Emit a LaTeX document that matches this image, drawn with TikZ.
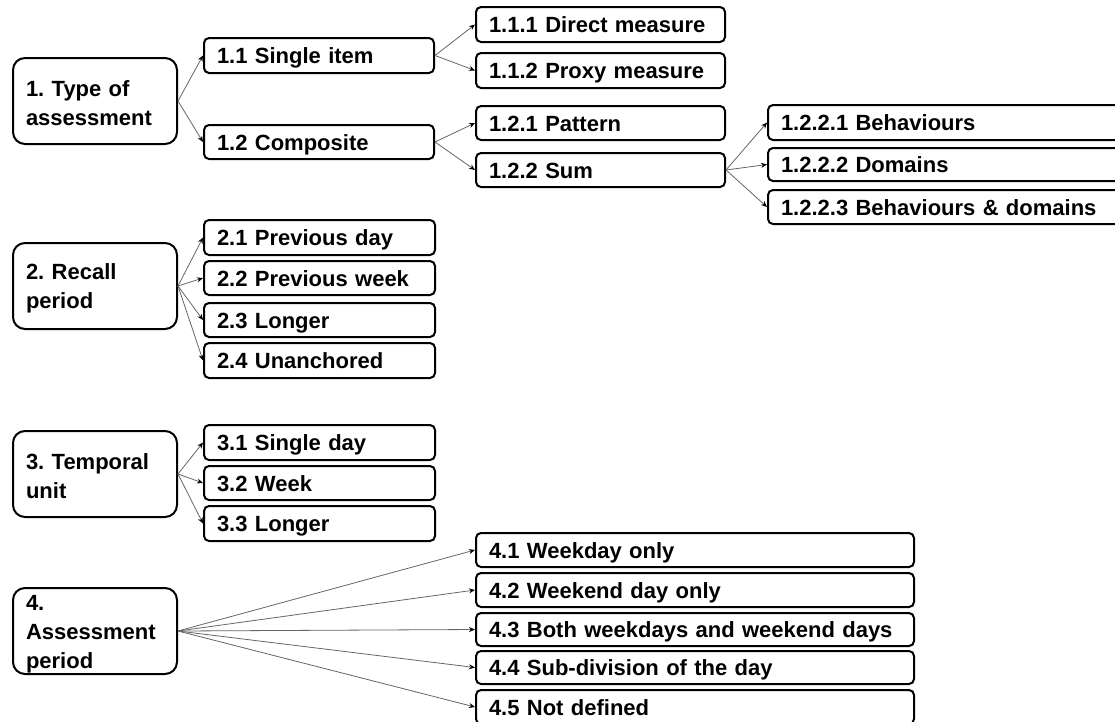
\documentclass[tikz,border=0pt]{standalone}
\usepackage{fontspec}
\setmainfont{Liberation Sans}
\usetikzlibrary{arrows.meta}
\frenchspacing
\tikzset{
  box/.style={draw=black, line width=2pt, rounded corners=5pt, align=left,
    inner xsep=13pt, inner ysep=0pt, font=\frenchspacing\bfseries\fontsize{22}{29}\selectfont,
    text height=18pt, text depth=2pt, anchor=center},
  bigbox/.style={draw=black, line width=2pt, rounded corners=12pt, align=left,
    inner xsep=13pt, inner ysep=0pt, font=\frenchspacing\bfseries\fontsize{22}{29}\selectfont, anchor=center},
  conn/.style={draw=black!60, line width=0.8pt, -{Stealth[length=6pt,width=5pt,black]}}
}
\newcommand\bx[7]{%
  \pgfmathsetmacro\bw{#4-#2}\pgfmathsetmacro\bh{#5-#3}\pgfmathsetmacro\tw{#4-#2-26}%
  \pgfmathsetmacro\cx{(#2+#4)/2}\pgfmathsetmacro\cy{(#3+#5)/2}%
  \node[#7,minimum width=\bw pt,minimum height=\bh pt,text width=\tw pt] (#1) at (\cx,\cy) {#6};}
\newcommand\up{\rule{0pt}{21pt}}
\begin{document}
\begin{tikzpicture}[x=1pt,y=-1pt]
\useasboundingbox (0,0) rectangle (1115,721);
\clip (0,0) rectangle (1115,721);
\fill[white] (0,0) rectangle (1115,721);
% level 1
\bx{b1}{13}{58}{177}{144}{\up 1. Type of\\assessment}{bigbox}
\bx{b2}{13}{243}{177}{329}{\up 2. Recall\\period}{bigbox}
\bx{b3}{13}{431}{177}{517}{\up 3. Temporal\\unit}{bigbox}
\bx{b4}{13}{588}{177}{674}{\up 4.\\Assessment\\period}{bigbox}
% branch 1
\bx{b11}{204}{38}{434}{73}{\mbox{1.1 Single item}}{box}
\bx{b12}{204}{125}{434}{159}{\mbox{1.2 Composite}}{box}
\bx{b111}{476}{7}{725}{42}{\mbox{1.1.1 Direct measure}}{box}
\bx{b112}{476}{53}{725}{88}{\mbox{1.1.2 Proxy measure}}{box}
\bx{b121}{476}{106}{725}{140}{\mbox{1.2.1 Pattern}}{box}
\bx{b122}{476}{153}{725}{187}{\mbox{1.2.2 Sum}}{box}
\bx{b1221}{768}{105}{1125}{140}{\mbox{1.2.2.1 Behaviours}}{box}
\bx{b1222}{768}{148}{1125}{181}{\mbox{1.2.2.2 Domains}}{box}
\bx{b1223}{768}{190}{1125}{224}{\mbox{1.2.2.3 Behaviours \& domains}}{box}
% branch 2
\bx{b21}{204}{220}{435}{255}{\mbox{2.1 Previous day}}{box}
\bx{b22}{204}{261}{435}{295}{\mbox{2.2 Previous week}}{box}
\bx{b23}{204}{303}{435}{337}{\mbox{2.3 Longer}}{box}
\bx{b24}{204}{343}{435}{378}{\mbox{2.4 Unanchored}}{box}
% branch 3
\bx{b31}{204}{425}{435}{460}{\mbox{3.1 Single day}}{box}
\bx{b32}{204}{466}{435}{500}{\mbox{3.2 Week}}{box}
\bx{b33}{204}{506}{435}{541}{\mbox{3.3 Longer}}{box}
% branch 4
\bx{b41}{476}{533}{914}{567}{\mbox{4.1 Weekday only}}{box}
\bx{b42}{476}{573}{914}{607}{\mbox{4.2 Weekend day only}}{box}
\bx{b43}{476}{613}{914}{646}{\mbox{4.3 Both weekdays and weekend days}}{box}
\bx{b44}{476}{651}{914}{684}{\mbox{4.4 Sub-division of the day}}{box}
\bx{b45}{476}{690}{914}{724}{\mbox{4.5 Not defined}}{box}
% connectors
\foreach \a/\b in {b1/b11,b1/b12,b11/b111,b11/b112,b12/b121,b12/b122,
  b122/b1221,b122/b1222,b122/b1223,
  b2/b21,b2/b22,b2/b23,b2/b24,
  b3/b31,b3/b32,b3/b33,
  b4/b41,b4/b42,b4/b43,b4/b44,b4/b45}
  \draw[conn] (\a.east) -- (\b.west);
\end{tikzpicture}
\end{document}
